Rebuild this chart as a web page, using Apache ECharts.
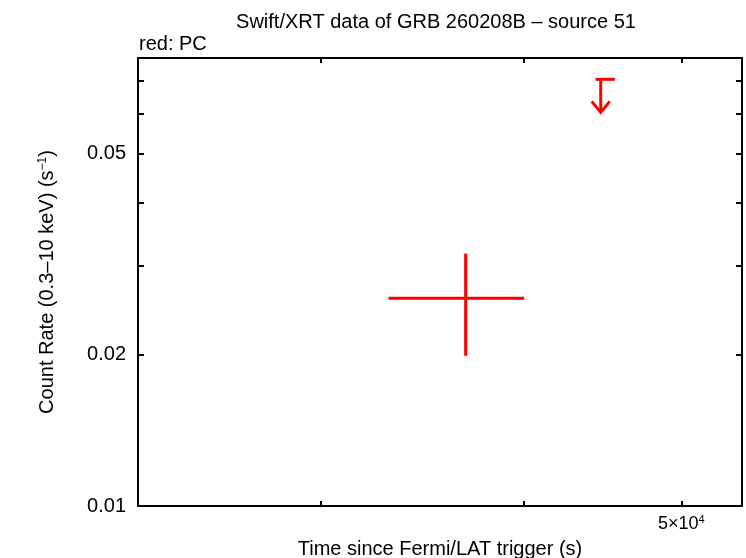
<!DOCTYPE html>
<html>
<head>
<meta charset="utf-8">
<script src="https://cdn.jsdelivr.net/npm/echarts@6/dist/echarts.min.js"></script>
<style>
html,body{margin:0;padding:0;background:#fff;}
#chart{width:746px;height:558px;}
</style>
</head>
<body>
<div id="chart"></div>
<script>
// ---- data ----
const titleText = 'Swift/XRT data of GRB 260208B \u2013 source 51';
const subtitleText = 'red: PC';
const xAxisName = 'Time since Fermi/LAT trigger (s)';
const yAxisName = 'Count Rate (0.3\u201310 keV) (s{sup|\u22121})';

const xRange = [23180, 54480];
const yRange = [0.01, 0.0775];
const xTickValues = [30000, 40000, 50000];
const xLabelValues = [50000];
const yTickValues = [0.01, 0.02, 0.03, 0.04, 0.05, 0.06, 0.07];
const yLabelValues = [0.01, 0.02, 0.05];

// PC detections
const pcTime   = [36850];
const pcTimeLo = [33040];
const pcTimeHi = [40030];
const pcRate   = [0.02585];
const pcRateLo = [0.01987];
const pcRateHi = [0.0317];

// PC upper limits
const ulTime   = [44610];
const ulTimeLo = [44290];
const ulTimeHi = [45510];
const ulRate   = [0.0703];

const RED = '#ff0000';

const pcData = pcTime.map((t, i) => [t, pcRate[i], pcTimeLo[i], pcTimeHi[i], pcRateLo[i], pcRateHi[i]]);
const ulData = ulTime.map((t, i) => [t, ulRate[i], ulTimeLo[i], ulTimeHi[i]]);

function renderErr(params, api) {
  const c = api.coord([api.value(0), api.value(1)]);
  const xl = api.coord([api.value(2), api.value(1)]);
  const xh = api.coord([api.value(3), api.value(1)]);
  const yl = api.coord([api.value(0), api.value(4)]);
  const yh = api.coord([api.value(0), api.value(5)]);
  const st = {stroke: RED, lineWidth: 3};
  return {type: 'group', children: [
    {type: 'line', shape: {x1: xl[0], y1: c[1], x2: xh[0], y2: c[1]}, style: st},
    {type: 'line', shape: {x1: c[0], y1: yl[1], x2: c[0], y2: yh[1]}, style: st}
  ]};
}
function renderUL(params, api) {
  const c = api.coord([api.value(0), api.value(1)]);
  const xl = api.coord([api.value(2), api.value(1)]);
  const xh = api.coord([api.value(3), api.value(1)]);
  const st = {stroke: RED, lineWidth: 3};
  const len = 33, hw = 9, hh = 11;
  const tipY = c[1] + len;
  return {type: 'group', children: [
    {type: 'line', shape: {x1: xl[0], y1: c[1], x2: xh[0], y2: c[1]}, style: st},
    {type: 'line', shape: {x1: c[0], y1: c[1], x2: c[0], y2: tipY}, style: st},
    {type: 'polyline', shape: {points: [[c[0] - hw, tipY - hh], [c[0], tipY], [c[0] + hw, tipY - hh]]}, style: Object.assign({fill: null}, st)}
  ]};
}

const FONT = '"Liberation Sans", Arial, sans-serif';
const axisLineStyle = {color: '#000', width: 2};
const tickStyle = {color: '#000', width: 2};

function xAx(pos, showLabel) {
  return {
    type: 'log', position: pos, min: xRange[0], max: xRange[1],
    axisLine: {show: true, onZero: false, lineStyle: axisLineStyle},
    axisTick: {show: true, inside: true, length: 5, lineStyle: tickStyle, customValues: xTickValues},
    minorTick: {show: false},
    splitLine: {show: false},
    axisLabel: {show: showLabel, customValues: xLabelValues, margin: 8,
      fontFamily: FONT, fontSize: 18, color: '#000',
      formatter: v => (v / 1e4).toFixed(0) + '\u00d710{sup|4}',
      rich: {sup: {fontSize: 11, verticalAlign: 'top', padding: [0, 0, 9, 0], fontFamily: FONT, color: '#000'}}},
    name: showLabel ? xAxisName : '', nameLocation: 'middle', nameGap: 33,
    nameTextStyle: {fontFamily: FONT, fontSize: 20, color: '#000'}
  };
}
function yAx(pos, showLabel) {
  return {
    type: 'log', position: pos, min: yRange[0], max: yRange[1],
    axisLine: {show: true, onZero: false, lineStyle: axisLineStyle},
    axisTick: {show: true, inside: true, length: 6, lineStyle: tickStyle, customValues: yTickValues},
    minorTick: {show: false},
    splitLine: {show: false},
    axisLabel: {show: showLabel, customValues: yLabelValues, margin: 12,
      fontFamily: FONT, fontSize: 20, color: '#000',
      formatter: v => v.toFixed(2)},
    name: showLabel ? yAxisName : '', nameLocation: 'middle', nameGap: 80, nameRotate: 90,
    nameTextStyle: {fontFamily: FONT, fontSize: 20, color: '#000',
      rich: {sup: {fontSize: 12, verticalAlign: 'top', padding: [0, 0, 9, 0], fontFamily: FONT, color: '#000'}}}
  };
}

const chart = echarts.init(document.getElementById('chart'), null, {renderer: 'canvas'});
chart.setOption({
  backgroundColor: '#fff',
  animation: false,
  title: [
    {text: titleText, left: 431, top: 7, textAlign: 'center',
      textStyle: {fontFamily: FONT, fontSize: 20, fontWeight: 'normal', color: '#000'}},
    {text: subtitleText, left: 134, top: 29,
      textStyle: {fontFamily: FONT, fontSize: 20, fontWeight: 'normal', color: '#000'}}
  ],
  grid: {left: 138, right: 4, top: 58, bottom: 52, containLabel: false, outerBoundsMode: 'none'},
  xAxis: [xAx('bottom', true), xAx('top', false)],
  yAxis: [yAx('left', true), yAx('right', false)],
  series: [
    {type: 'custom', name: 'PC', renderItem: renderErr, data: pcData, xAxisIndex: 0, yAxisIndex: 0,
      encode: {x: [0, 2, 3], y: [1, 4, 5]}, clip: false},
    {type: 'custom', name: 'PC UL', renderItem: renderUL, data: ulData, xAxisIndex: 0, yAxisIndex: 0,
      encode: {x: [0, 2, 3], y: [1]}, clip: false}
  ]
});
</script>
</body>
</html>
